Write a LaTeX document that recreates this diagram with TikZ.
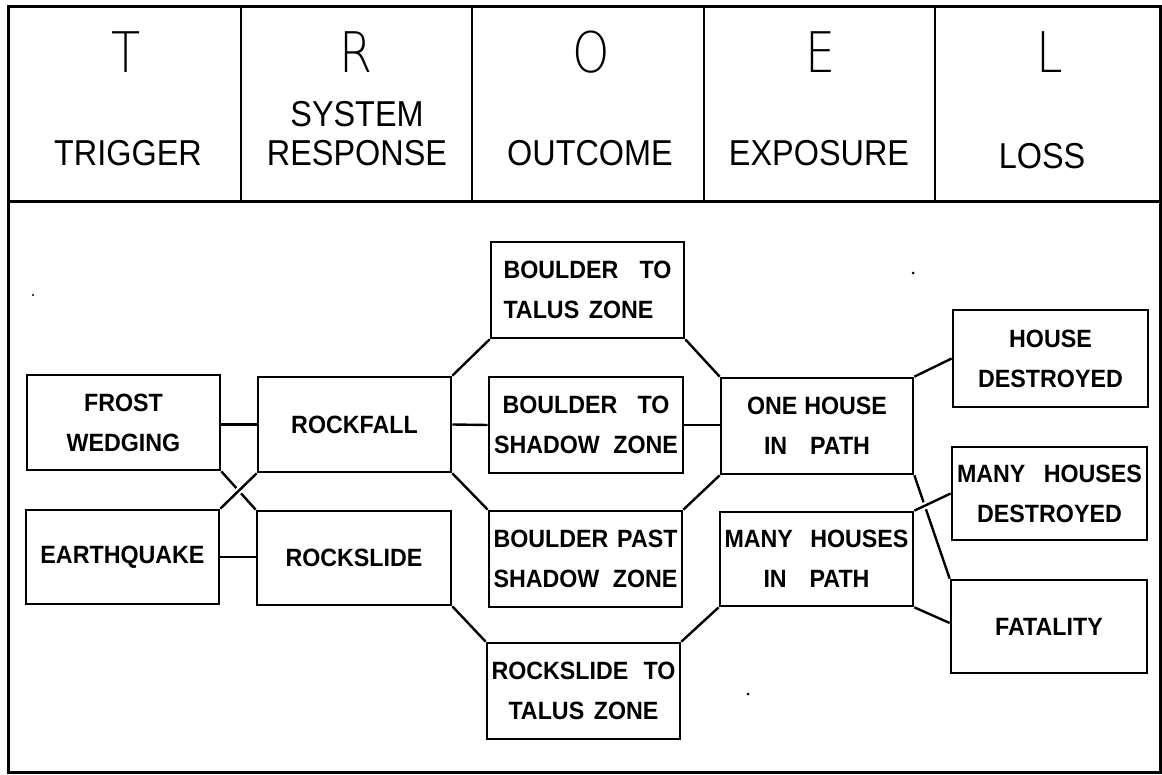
\documentclass[tikz,border=0pt]{standalone}
\usepackage{fontspec}
\setmainfont{Liberation Sans}
\newfontfamily\namefont[FakeStretch=0.9]{Liberation Sans}
\newfontfamily\boxfont[FakeStretch=0.93]{Liberation Sans}
\IfFontExistsTF{DejaVuSans-ExtraLight.ttf}
  {\newfontfamily\letterfont[FakeStretch=0.85]{DejaVuSans-ExtraLight.ttf}}
  {\newfontfamily\letterfont[FakeStretch=0.85]{Liberation Sans}}
\pgfdeclarelayer{bg}
\pgfsetlayers{bg,main}
\begin{document}
\begin{tikzpicture}[x=1pt,y=-1pt,
  box/.style={draw, line width=2.7pt, rectangle, inner sep=0pt,
    font=\boxfont\bfseries\fontsize{25}{40}\selectfont, align=center},
  conn/.style={line width=2.4pt},
  over/.style={conn, preaction={draw=white, line width=7pt}},
  frameline/.style={line width=3pt},
  divline/.style={line width=2pt},
  letter/.style={anchor=base, inner sep=0pt, font=\letterfont\fontsize{56}{60}\selectfont},
  colname/.style={anchor=base, inner sep=0pt, align=center,
    font=\namefont\fontsize{36}{39}\selectfont},
  speck/.style={fill=black, draw=none}
]
\useasboundingbox (0,0) rectangle (1162,775);

% frame and header
\draw[frameline] (8,7) rectangle (1160,772);
\draw[frameline] (8,202) -- (1160,202);
\foreach \x in {241,472,704,935} \draw[divline] (\x,7) -- (\x,202);

\node[letter] (lT) at (126,73) {T};
\node[letter] (lR) at (356,73) {R};
\node[letter] (lO) at (591,73) {O};
\node[letter] (lE) at (821,73) {E};
\node[letter] (lL) at (1050,73) {L};

\node[colname] (nT) at (128,166) {TRIGGER};
\node[colname, anchor=base] (nR) at (357,166) {SYSTEM\\RESPONSE};
\node[colname] (nO) at (590,166) {OUTCOME};
\node[colname] (nE) at (819,166) {EXPOSURE};
\node[colname] (nL) at (1042,169) {LOSS};

% boxes
\node[box, minimum width=193pt, minimum height=95pt] (frost) at (123.5,422.5) {FROST\\WEDGING};
\node[box, minimum width=193pt, minimum height=95pt] (rockfall) at (354.5,424.5) {ROCKFALL};
\node[box, minimum width=193pt, minimum height=94pt] (quake) at (122.5,557) {EARTHQUAKE};
\node[box, minimum width=194pt, minimum height=94pt] (rockslide) at (354,558) {ROCKSLIDE};

\node[box, minimum width=193pt, minimum height=96pt] (btt) at (587.5,290)
  {\makebox[168pt][s]{BOULDER\ TO}\\\makebox[168pt][l]{\makebox[150pt][s]{TALUS\ ZONE}}};
\node[box, minimum width=194pt, minimum height=96pt] (btsz) at (586,425)
  {\makebox[167pt][s]{BOULDER\ TO}\\\makebox[184pt][s]{SHADOW\ ZONE}};
\node[box, minimum width=193pt, minimum height=96pt] (bbps) at (585.5,559)
  {\makebox[184pt][s]{BOULDER\ PAST}\\\makebox[184pt][s]{SHADOW\ ZONE}};
\node[box, minimum width=193pt, minimum height=96pt] (rttz) at (583.5,691)
  {\makebox[184pt][s]{ROCKSLIDE\ TO}\\\makebox[150pt][s]{TALUS\ ZONE}};

\node[box, minimum width=192pt, minimum height=96pt] (onehouse) at (817,426)
  {\makebox[140pt][s]{ONE\ HOUSE}\\\makebox[106pt][s]{IN\ PATH}};
\node[box, minimum width=193pt, minimum height=94pt] (manyhouses) at (816.5,559)
  {\makebox[184pt][s]{MANY\ HOUSES}\\\makebox[106pt][s]{IN\ PATH}};

\node[box, minimum width=195pt, minimum height=97pt] (housedes) at (1050.5,358.5)
  {HOUSE\\DESTROYED};
\node[box, minimum width=195pt, minimum height=93pt] (manydes) at (1049.5,493.5)
  {\makebox[185pt][s]{MANY\ HOUSES}\\DESTROYED};
\node[box, minimum width=196pt, minimum height=93pt] (fatality) at (1049,626.5) {FATALITY};

% connectors
\begin{pgfonlayer}{bg}
\draw[conn] (rockfall.west -| frost.east) -- (rockfall.west);
\draw[conn] (quake.east) -- (quake.east -| rockslide.west);
\draw[conn] (frost.south east) -- (rockslide.north west);
\draw[over] (rockfall.south west) -- (quake.north east);

\draw[conn] (rockfall.east) -- (btsz.west);
\draw[conn] (rockfall.north east) -- (btt.south west);
\draw[conn] (rockfall.south east) -- (bbps.north west);
\draw[conn] (btt.south east) -- (onehouse.north west);
\draw[conn] (btsz.east) -- (btsz.east -| onehouse.west);
\draw[conn] (onehouse.south west) -- (bbps.north east);
\draw[conn] (rockslide.south east) -- (rttz.north west);
\draw[conn] (manyhouses.south west) -- (rttz.north east);

\draw[conn] (onehouse.north east) -- (housedes.west);
\draw[conn] (onehouse.south east) -- (fatality.north west);
\draw[over] (manyhouses.north east) -- (manydes.west);
\draw[conn] (manyhouses.south east) -- ([yshift=3.5pt]fatality.west);
\end{pgfonlayer}

% specks of the original print
\fill[speck] (913,273) circle (1.5pt);
\fill[speck] (748,694) circle (1.5pt);
\fill[speck] (33,295) circle (1.2pt);
\end{tikzpicture}
\end{document}
